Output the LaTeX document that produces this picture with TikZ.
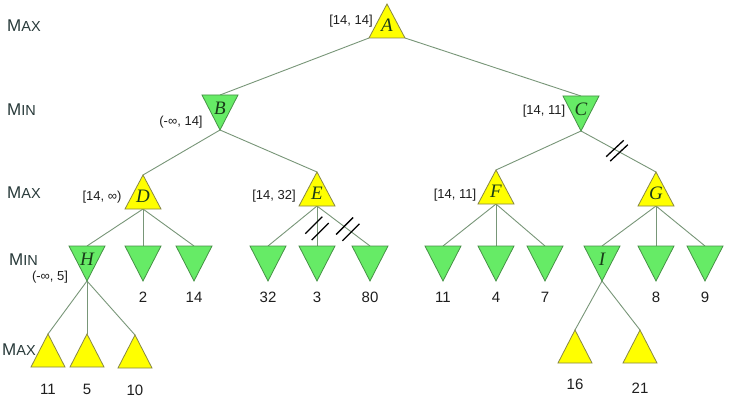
\documentclass[tikz,border=0pt]{standalone}
\usepackage{fontspec}
\setmainfont{Liberation Sans}
\newfontfamily\letterfont{Liberation Serif}
\usetikzlibrary{shapes.geometric,calc,backgrounds}
\definecolor{triY}{RGB}{255,255,0}
\definecolor{triYb}{RGB}{135,135,70}
\definecolor{triG}{RGB}{102,235,102}
\definecolor{triGb}{RGB}{70,145,70}
\definecolor{edgec}{RGB}{120,150,120}
\definecolor{rowc}{RGB}{40,58,58}
\definecolor{letc}{RGB}{25,60,25}
\definecolor{txtc}{RGB}{30,30,30}
\begin{document}
\begin{tikzpicture}[x=1pt,y=1pt,
  tri/.style={isosceles triangle, isosceles triangle stretches, inner sep=0pt, outer sep=0pt, line width=0.8pt, anchor=apex},
  maxtri/.style={tri, shape border rotate=90, minimum width=36pt, minimum height=34pt, fill=triY, draw=triYb},
  smalltri/.style={minimum width=34pt, minimum height=33pt},
  mintri/.style={tri, shape border rotate=270, minimum width=36pt, minimum height=35pt, fill=triG, draw=triGb},
  letter/.style={inner sep=0pt, text=letc, font=\letterfont\itshape\fontsize{19}{19}\selectfont},
  edge/.style={draw=edgec, line width=0.9pt},
  cutline/.style={draw=black, line width=1.3pt},
  interval/.style={inner sep=0pt, text=txtc, font=\fontsize{13}{15}\selectfont},
  leaf/.style={inner sep=0pt, text=txtc, font=\fontsize{15}{17}\selectfont},
  rowlab/.style={inner sep=0pt, anchor=base west, text=rowc, font=\fontsize{17}{17}\selectfont},
  pics/dblcut/.style={code={\draw[cutline] (-#1,-12) -- (-#1,12); \draw[cutline] (#1,-12) -- (#1,12);}}
]
\useasboundingbox (0,0) rectangle (730,402);

% row labels
\node[rowlab] (r1) at (7,370) {M{\fontsize{14.5}{14.5}\selectfont AX}};
\node[rowlab] (r2) at (7,286) {M{\fontsize{14.5}{14.5}\selectfont IN}};
\node[rowlab] (r3) at (7,204) {M{\fontsize{14.5}{14.5}\selectfont AX}};
\node[rowlab] (r4) at (9,137) {M{\fontsize{14.5}{14.5}\selectfont IN}};
\node[rowlab] (r5) at (2,47) {M{\fontsize{14.5}{14.5}\selectfont AX}};

% triangles
\node[maxtri] (A) at (387,398) {};
\node[mintri] (B) at (220,272) {};
\node[mintri] (C) at (581,271) {};
\node[maxtri] (D) at (143,227) {};
\node[maxtri] (E) at (317,230) {};
\node[maxtri] (F) at (496,232) {};
\node[maxtri] (G) at (656,230) {};
\foreach \n/\x in {H/87, D2/143, D3/194, E1/268, E2/317, E3/370, F1/443, F2/496, F3/545, I/602, G2/656, G3/705}
  \node[mintri] (\n) at (\x,121) {};
\node[maxtri, smalltri] (H1) at (48,68) {};
\node[maxtri, smalltri] (H2) at (87,68) {};
\node[maxtri, smalltri] (H3) at (135,67) {};
\node[maxtri, smalltri] (I1) at (575,72) {};
\node[maxtri, smalltri] (I2) at (640,72) {};

% letters
\foreach \n in {A,B,C,D,E,F,G,H,I}
  \node[letter] (\n-l) at ($(\n.apex)!0.63!(\n.lower side)$) {\n};

% background and edges
\begin{scope}[on background layer]
\fill[white] (0,0) rectangle (730,402);
\draw[edge] (A.left corner) -- (B.lower side);
\draw[edge] (A.right corner) -- (C.lower side);
\draw[edge] (B.apex) -- (D.apex);
\draw[edge] (B.apex) -- (E.apex);
\draw[edge] (C.apex) -- (F.apex);
\draw[edge] (C.apex) -- (G.apex);
\foreach \p/\a/\b/\c in {D/H/D2/D3, E/E1/E2/E3, F/F1/F2/F3, G/I/G2/G3} {
  \draw[edge] (\p.lower side) -- (\a.lower side);
  \draw[edge] (\p.lower side) -- (\b.lower side);
  \draw[edge] (\p.lower side) -- (\c.lower side);
}
\draw[edge] (H.apex) -- (H1.apex);
\draw[edge] (H.apex) -- (H2.apex);
\draw[edge] (H.apex) -- (H3.apex);
\draw[edge] (I.apex) -- (I1.apex);
\draw[edge] (I.apex) -- (I2.apex);
\end{scope}

% cut marks
\path (E.lower side) -- (E2.lower side) coordinate[pos=0.56] (cut1);
\path (E.lower side) -- (E3.lower side) coordinate[pos=0.58] (cut2);
\path (C.apex) -- (G.apex) coordinate[pos=0.48] (cut3);
\pic[rotate=-45] at (cut1) {dblcut=4.5};
\pic[rotate=-45] at (cut2) {dblcut=4.5};
\pic[rotate=-47] at (cut3) {dblcut=3};

% interval labels
\node[interval] (iA) at (351,381) {[14, 14]};
\node[interval] (iB) at (181,280) {(-∞, 14]};
\node[interval] (iC) at (544,291) {[14, 11]};
\node[interval] (iD) at (102,205) {[14, ∞)};
\node[interval] (iE) at (274,206) {[14, 32]};
\node[interval] (iF) at (455,207) {[14, 11]};
\node[interval] (iH) at (50,125) {(-∞, 5]};

% leaf values
\foreach \n/\v in {D2/2, D3/14, E1/32, E2/3, E3/80, F1/11, F2/4, F3/7, G2/8, G3/9}
  \node[leaf] (v\n) at ([yshift=-16]\n.apex) {\v};
\node[leaf] (vH1) at ([yshift=-22]H1.lower side) {11};
\node[leaf] (vH2) at ([yshift=-22]H2.lower side) {5};
\node[leaf] (vH3) at ([yshift=-22]H3.lower side) {10};
\node[leaf] (vI1) at ([yshift=-21]I1.lower side) {16};
\node[leaf] (vI2) at ([yshift=-25]I2.lower side) {21};
\end{tikzpicture}
\end{document}
